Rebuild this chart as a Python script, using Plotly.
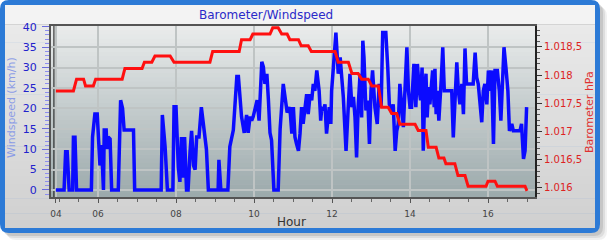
import plotly.graph_objects as go

# ---------------- data ----------------
hours_wind = [
    4.92, 5.13, 5.17, 5.21, 5.26, 5.35, 5.37, 5.41, 5.45, 5.83,
    5.86, 5.92, 5.98, 6.01, 6.05, 6.09, 6.14, 6.16, 6.21, 6.23,
    6.26, 6.31, 6.35, 6.52, 6.55, 6.58, 6.63, 6.67, 6.91, 6.94,
    7.62, 7.65, 7.72, 7.78, 7.92, 7.95, 8.00, 8.03, 8.06, 8.10,
    8.14, 8.18, 8.22, 8.27, 8.31, 8.36, 8.40, 8.45, 8.49, 8.53,
    8.59, 8.65, 8.69, 8.74, 8.78, 8.83, 9.08, 9.10, 9.15, 9.33,
    9.38, 9.47, 9.56, 9.60, 9.64, 9.68, 9.75, 9.81, 9.85, 9.90,
    9.94, 9.98, 10.08, 10.13, 10.20, 10.24, 10.28, 10.33, 10.37, 10.41,
    10.45, 10.51, 10.62, 10.67, 10.75, 10.82, 10.85,
    10.92, 10.97, 11.01, 11.05, 11.09, 11.14, 11.18, 11.22, 11.26, 11.31,
    11.35, 11.39, 11.44, 11.48, 11.52, 11.56, 11.61, 11.67, 11.71, 11.74,
    11.78, 11.82, 11.86, 11.91, 11.93, 11.97, 11.99, 12.03, 12.10, 12.16,
    12.21, 12.25, 12.29, 12.36, 12.42, 12.46, 12.51, 12.55, 12.59, 12.63,
    12.67, 12.72, 12.76, 12.79, 12.82, 12.87, 12.92, 12.96, 13.00, 13.04,
    13.10, 13.16, 13.21, 13.26, 13.30, 13.38, 13.43, 13.47, 13.53, 13.57,
    13.62, 13.66, 13.70, 13.74, 13.79, 13.83, 13.87, 13.92, 13.96, 14.00,
    14.04, 14.10, 14.15, 14.19, 14.24, 14.27, 14.31, 14.34, 14.38, 14.41,
    14.44, 14.48, 14.51, 14.55, 14.58, 14.62, 14.64, 14.67, 14.70, 14.74,
    14.77, 14.80, 14.84, 14.88, 14.92, 14.98, 15.07, 15.11, 15.15, 15.20,
    15.24, 15.28, 15.33, 15.37, 15.41, 15.45, 15.52, 15.62, 15.67, 15.71,
    15.75, 15.79, 15.84, 15.88, 15.92, 15.97, 16.01, 16.05, 16.09, 16.14,
    16.18, 16.24, 16.29, 16.33, 16.37, 16.41, 16.46, 16.51, 16.55, 16.61,
    16.65, 16.74, 16.82, 16.86, 16.91, 16.95, 16.99,
]
windspeed_kmh = [
    0, 0, 9.4, 9.4, 0, 0, 12.9, 12.9, 0, 0,
    13, 18.6, 18.6, 11, 6, 11, 0, 14.7, 14.7, 10,
    13, 12.5, 0, 0, 12.2, 22, 20, 14.7, 14.7, 0,
    0, 18.4, 10.6, 0, 0, 20.4, 20.4, 11.5, 5.5, 2,
    13, 3, 13, 0, 0, 9.4, 14.5, 6, 5, 13,
    13, 20.3, 17, 13, 10, 0, 0, 7.4, 0, 0,
    10.6, 14.7, 27.8, 27.8, 23.7, 18, 14, 18.4, 14, 18,
    17, 18, 22, 17, 31.4, 30.2, 26, 28.5, 22, 14,
    12.2, 0, 0, 15, 26, 22, 19,
    20.3, 13.8, 20.3, 13, 11.3, 9.6, 13.8, 20.3, 16.2, 20.3,
    23.5, 18.6, 23.5, 22, 26, 24.3, 29.3, 24.3, 17, 20.3,
    19.5, 21, 13.8, 18.6, 20.3, 16.2, 24.3, 29.3, 38.6, 28.5,
    32.5, 27.6, 22.8, 9.6, 22.8, 28.5, 20.3, 22.8, 17.8, 8,
    20.3, 28.5, 17.8, 36.6, 32.5, 19.5, 21.9, 11.3, 24.3, 29.3,
    20.3, 16.2, 26, 20.3, 38.6, 38.6, 30, 21, 19.5, 21,
    9.6, 14.5, 16.2, 26, 20.3, 15.4, 24.3, 35, 24.3, 20.3,
    20.3, 30.9, 20.3, 30.9, 24.3, 22, 30, 9.6, 24.3, 28.5,
    17.8, 25.2, 21, 26.8, 29.3, 20.3, 29.7, 18.6, 24.3, 17,
    24.3, 26.8, 35, 24.3, 24.3, 24.3, 24.3, 12.9, 22.8, 31.3,
    24.3, 21, 26, 18.6, 34.7, 26, 26, 26, 33.7, 27.6,
    26, 21, 16.6, 24.3, 26, 21, 29.3, 24.3, 29.3, 11.3,
    29.3, 29.3, 24.3, 17, 29.3, 35, 30, 24.3, 14.5, 16.2,
    14.5, 14.5, 14.5, 16.2, 7.6, 9.6, 20.3,
]

hours_baro = [
    4.92, 5.37, 5.45, 5.63, 5.68, 5.88, 5.94, 6.62, 6.69, 7.13,
    7.19, 7.38, 7.46, 7.85, 7.95, 8.87, 8.94, 9.62, 9.68, 9.90,
    9.97, 10.41, 10.48, 10.62, 10.71, 10.85, 10.92, 11.14, 11.21, 11.39,
    11.47, 12.08, 12.16, 12.42, 12.51, 12.67, 12.76, 12.93, 13.02, 13.19,
    13.27, 13.44, 13.53, 13.66, 13.74, 14.13, 14.21, 14.41, 14.47, 14.67,
    14.74, 14.87, 14.92, 15.15, 15.23, 15.41, 15.49, 15.95, 16.00, 16.18,
    16.24, 16.95, 17.00,
]
barometer_hpa = [
    1017.72, 1017.72, 1017.93, 1017.93, 1017.81, 1017.81, 1017.93, 1017.93, 1018.12, 1018.12,
    1018.23, 1018.23, 1018.34, 1018.34, 1018.23, 1018.23, 1018.42, 1018.42, 1018.63, 1018.63,
    1018.73, 1018.73, 1018.84, 1018.84, 1018.73, 1018.73, 1018.63, 1018.63, 1018.52, 1018.52,
    1018.42, 1018.42, 1018.23, 1018.23, 1018.03, 1018.03, 1017.93, 1017.93, 1017.81, 1017.81,
    1017.43, 1017.43, 1017.32, 1017.32, 1017.13, 1017.13, 1017.02, 1017.02, 1016.72, 1016.72,
    1016.53, 1016.53, 1016.43, 1016.43, 1016.22, 1016.22, 1016.03, 1016.03, 1016.12, 1016.12,
    1016.03, 1016.03, 1015.95,
]

x_tick_hours = [4.92, 6, 8, 10, 12, 14, 16]
x_tick_labels = ["04", "06", "08", "10", "12", "14", "16"]
wind_ticks = [0, 5, 10, 15, 20, 25, 30, 35, 40]
baro_ticks = [1016.0, 1016.5, 1017.0, 1017.5, 1018.0, 1018.5]
baro_tick_labels = ["1.016", "1.016,5", "1.017", "1.017,5", "1.018", "1.018,5"]

# ---------------- layout geometry ----------------
W, H = 611, 246
PL, PR, PT, PB = 51, 535, 26, 197   # plot area in pixels


def px(x):
    return (x - PL) / (PR - PL)


def py(y):
    return (PB - y) / (PB - PT)


def mix(c1, c2, t):
    return "rgb(%d,%d,%d)" % tuple(round(a + (b - a) * t) for a, b in zip(c1, c2))


def rounded_path(x0, y0, x1, y1, r):
    pts = [
        ("M", (x0 + r, y0)), ("L", (x1 - r, y0)), ("Q", (x1, y0), (x1, y0 + r)),
        ("L", (x1, y1 - r)), ("Q", (x1, y1), (x1 - r, y1)),
        ("L", (x0 + r, y1)), ("Q", (x0, y1), (x0, y1 - r)),
        ("L", (x0, y0 + r)), ("Q", (x0, y0), (x0 + r, y0)),
    ]
    out = []
    for cmd, *ps in pts:
        out.append(cmd + " " + " ".join("%.5f,%.5f" % (px(a), py(b)) for a, b in ps))
    return " ".join(out) + " Z"


shapes = []
# soft shadow
for off, alpha in [(7, 0.06), (5, 0.08), (3, 0.10)]:
    shapes.append(dict(type="path", xref="paper", yref="paper", layer="below",
                       path=rounded_path(off, off, 600 + off, 233 + off, 9),
                       fillcolor="rgba(0,0,0,%.2f)" % alpha, line=dict(width=0)))
# blue card border
shapes.append(dict(type="path", xref="paper", yref="paper", layer="below",
                   path=rounded_path(0, 0, 600, 233, 9),
                   fillcolor="#2c7ad6", line=dict(width=0)))
# card inner gradient
n = 30
top_c, bot_c = (236, 236, 236), (208, 208, 208)
y0c, y1c = 5, 228
for i in range(n):
    ya = y0c + (y1c - y0c) * i / n
    yb = y0c + (y1c - y0c) * (i + 1) / n + 0.6
    shapes.append(dict(type="rect", xref="paper", yref="paper", layer="below",
                       x0=px(5), x1=px(595), y0=py(ya), y1=py(min(yb, y1c)),
                       fillcolor=mix(top_c, bot_c, i / (n - 1)), line=dict(width=0)))
# title strip
shapes.append(dict(type="rect", xref="paper", yref="paper", layer="below",
                   x0=px(5), x1=px(595), y0=py(5), y1=py(24),
                   fillcolor="#f3f3f3", line=dict(width=0)))
shapes.append(dict(type="line", xref="paper", yref="paper", layer="below",
                   x0=px(5), x1=px(595), y0=py(24.5), y1=py(24.5),
                   line=dict(color="#d4d4d4", width=1)))
# plot area gradient
n = 40
ptop, pbot = (233, 235, 235), (156, 170, 172)
for i in range(n):
    ya = PT + (PB - PT) * i / n
    yb = PT + (PB - PT) * (i + 1) / n + 0.6
    shapes.append(dict(type="rect", xref="paper", yref="paper", layer="below",
                       x0=0, x1=1, y0=py(ya), y1=py(min(yb, PB)),
                       fillcolor=mix(ptop, pbot, i / (n - 1)), line=dict(width=0)))
# dark start line at first time tick
shapes.append(dict(type="line", xref="x", yref="paper", layer="between",
                   x0=x_tick_hours[0] - 0.05, x1=x_tick_hours[0] - 0.05, y0=0, y1=1,
                   line=dict(color="#111111", width=1)))

fig = go.Figure()
fig.add_trace(go.Scatter(x=hours_wind, y=windspeed_kmh, mode="lines", yaxis="y",
                         line=dict(color="#0b0bff", width=3.5), name="Windspeed",
                         showlegend=False))
fig.add_trace(go.Scatter(x=hours_baro, y=barometer_hpa, mode="lines", yaxis="y2",
                         line=dict(color="#ff1010", width=3), name="Barometer",
                         showlegend=False))

annotations = [
    dict(text="Barometer/Windspeed", x=px(266), y=py(15), xref="paper", yref="paper",
         showarrow=False, xanchor="center", yanchor="middle",
         font=dict(size=12, color="#2a2ac8")),
    dict(text="Hour", x=px(291), y=py(222), xref="paper", yref="paper",
         showarrow=False, xanchor="center", yanchor="middle",
         font=dict(size=12, color="#333333")),
    dict(text="Windspeed (km/h)", x=px(11), y=py(108), xref="paper", yref="paper",
         showarrow=False, xanchor="center", yanchor="middle", textangle=-90,
         font=dict(size=11, color="#8c9ce6")),
    dict(text="Barometer hPa", x=px(589), y=py(112), xref="paper", yref="paper",
         showarrow=False, xanchor="center", yanchor="middle", textangle=-90,
         font=dict(size=11, color="#e03030")),
]

grid_c = "#bfc4c4"
fig.update_layout(
    width=W, height=H,
    margin=dict(l=PL, r=W - PR, t=PT, b=H - PB, pad=0),
    paper_bgcolor="white", plot_bgcolor="rgba(0,0,0,0)",
    font=dict(family="DejaVu Sans", size=10, color="#333"),
    shapes=shapes, annotations=annotations, showlegend=False,
    xaxis=dict(range=[4.795, 17.205], tickmode="array", tickvals=x_tick_hours,
               ticktext=x_tick_labels, ticks="outside", ticklen=4, tickcolor="#555",
               tickfont=dict(size=9, color="#444"), ticklabelstandoff=3,
               showgrid=True, gridcolor=grid_c, gridwidth=1.5,
               showline=True, linecolor="#555", linewidth=2, mirror=True,
               zeroline=False,
               minor=dict(tickmode="linear", tick0=0, dtick=0.5, ticks="outside",
                          ticklen=3, tickcolor="#666", showgrid=False)),
    yaxis=dict(range=[-1.72, 40.2], tickmode="array", tickvals=wind_ticks,
               ticks="outside", ticklen=7, tickcolor="#6b6bdc",
               tickfont=dict(size=11, color="#2222cc"), ticklabelstandoff=3,
               showgrid=True, gridcolor=grid_c, gridwidth=1.5,
               showline=True, linecolor="#555", linewidth=2, mirror=True,
               zeroline=False,
               minor=dict(tickmode="linear", tick0=0, dtick=1, ticks="outside",
                          ticklen=4, tickcolor="#8d8df0", showgrid=False)),
    yaxis2=dict(range=[1015.84, 1018.872], overlaying="y", side="right",
                tickmode="array", tickvals=baro_ticks, ticktext=baro_tick_labels,
                ticks="outside", ticklen=5, tickcolor="#333",
                tickfont=dict(size=10, color="#dd2222"),
                showgrid=False, showline=True, linecolor="#222", linewidth=2,
                zeroline=False,
                minor=dict(tickmode="linear", tick0=1016, dtick=0.1, ticks="outside",
                           ticklen=3, tickcolor="#555", showgrid=False)),
)

fig.write_html("out.html")
